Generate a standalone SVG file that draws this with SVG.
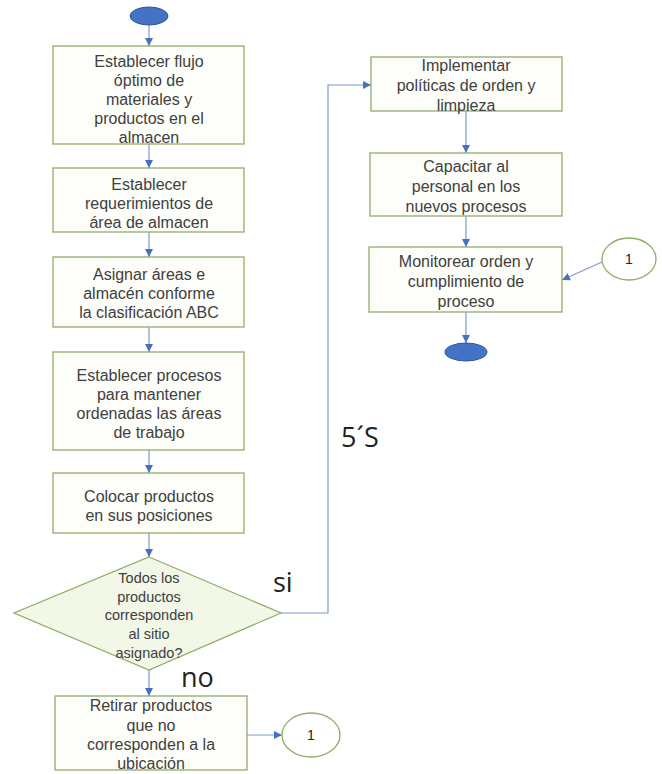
<svg xmlns="http://www.w3.org/2000/svg" width="662" height="774" viewBox="0 0 662 774">
<defs>
<marker id="ah" viewBox="0 0 10 10" refX="10" refY="5" markerWidth="8" markerHeight="8" markerUnits="userSpaceOnUse" orient="auto">
<path d="M0,0 L10,5 L0,10 z" fill="#4a6fbf"/>
</marker>
<style>
.box{fill:#fdfef9;stroke:#8fae68;stroke-width:1.3}
.dia{fill:#f2f7e8;stroke:#8fae68;stroke-width:1.3}
.term{fill:#4472c4;stroke:#2f5597;stroke-width:1}
.conn{fill:#ffffff;stroke:#8fae68;stroke-width:1.3}
.t{font-family:"Liberation Sans",Arial,sans-serif;font-size:16px;fill:#404040;text-anchor:middle}
.big{font-family:"Open Sans","Liberation Sans",sans-serif;font-size:27px;fill:#222222}
.edge{fill:none;stroke:#7f98cf;stroke-width:1.2;marker-end:url(#ah)}
</style>
</defs>
<rect width="662" height="774" fill="#ffffff"/>
<g id="connectors">
<path class="edge" d="M149,25 V46"/>
<path class="edge" d="M149,144 V168"/>
<path class="edge" d="M149,232 V257"/>
<path class="edge" d="M149,327 V352"/>
<path class="edge" d="M149,450 V473"/>
<path class="edge" d="M149,533 V557"/>
<path class="edge" d="M149,670 V696"/>
<path class="edge" d="M247,735 H282"/>
<path class="edge" d="M281,613 H328 V85 H371"/>
<path class="edge" d="M466,111 V153"/>
<path class="edge" d="M466,216 V247"/>
<path class="edge" d="M466,312 V343"/>
<path class="edge" d="M602,262 L562,280"/>
</g>
<g id="start"><ellipse class="term" cx="149" cy="16" rx="19" ry="9"/></g>
<g id="n1"><rect class="box" x="53" y="46" width="191" height="98"/>
<text class="t"><tspan x="149" y="67">Establecer flujo</tspan><tspan x="149" y="86">óptimo de</tspan><tspan x="149" y="105">materiales y</tspan><tspan x="149" y="124">productos en el</tspan><tspan x="149" y="143">almacen</tspan></text></g>
<g id="n2"><rect class="box" x="53" y="168" width="191" height="64"/>
<text class="t"><tspan x="149" y="190">Establecer</tspan><tspan x="149" y="209">requerimientos de</tspan><tspan x="149" y="228">área de almacen</tspan></text></g>
<g id="n3"><rect class="box" x="53" y="257" width="191" height="70"/>
<text class="t"><tspan x="149" y="280">Asignar áreas e</tspan><tspan x="149" y="299">almacén conforme</tspan><tspan x="149" y="318">la clasificación ABC</tspan></text></g>
<g id="n4"><rect class="box" x="53" y="352" width="191" height="98"/>
<text class="t"><tspan x="149" y="381">Establecer procesos</tspan><tspan x="149" y="400">para mantener</tspan><tspan x="149" y="419">ordenadas las áreas</tspan><tspan x="149" y="438">de trabajo</tspan></text></g>
<g id="n5"><rect class="box" x="53" y="473" width="191" height="60"/>
<text class="t"><tspan x="149" y="502">Colocar productos</tspan><tspan x="149" y="521">en sus posiciones</tspan></text></g>
<g id="decision"><polygon class="dia" points="149,557 281,613 149,670 14,613"/>
<text class="t" style="font-size:14.5px"><tspan x="149" y="583">Todos los</tspan><tspan x="149" y="602">productos</tspan><tspan x="149" y="620">corresponden</tspan><tspan x="149" y="639">al sitio</tspan><tspan x="149" y="658">asignado?</tspan></text></g>
<g id="n6"><rect class="box" x="55" y="696" width="192" height="74"/>
<text class="t"><tspan x="151" y="711">Retirar productos</tspan><tspan x="151" y="731">que no</tspan><tspan x="151" y="750">corresponden a la</tspan><tspan x="151" y="769">ubicación</tspan></text></g>
<g id="c1a"><ellipse class="conn" cx="311" cy="735" rx="29" ry="22"/>
<text class="t" style="font-size:14px;fill:#222" x="311" y="740">1</text></g>
<g id="n7"><rect class="box" x="371" y="57" width="191" height="54"/>
<text class="t"><tspan x="466" y="71">Implementar</tspan><tspan x="466" y="91">políticas de orden y</tspan><tspan x="466" y="111">limpieza</tspan></text></g>
<g id="n8"><rect class="box" x="370" y="153" width="192" height="63"/>
<text class="t"><tspan x="466" y="172">Capacitar al</tspan><tspan x="466" y="192">personal en los</tspan><tspan x="466" y="212">nuevos procesos</tspan></text></g>
<g id="n9"><rect class="box" x="369" y="247" width="193" height="65"/>
<text class="t"><tspan x="466" y="267">Monitorear orden y</tspan><tspan x="466" y="287">cumplimiento de</tspan><tspan x="466" y="307">proceso</tspan></text></g>
<g id="end"><ellipse class="term" cx="466" cy="352" rx="21" ry="9"/></g>
<g id="c1b"><ellipse class="conn" cx="629" cy="259" rx="27" ry="21"/>
<text class="t" style="font-size:14px;fill:#222" x="629" y="264">1</text></g>
<g id="labels">
<text class="big" x="273" y="592">si</text>
<text class="big" x="181" y="687">no</text>
<text class="big" x="341" y="447">5´S</text>
</g>
</svg>
